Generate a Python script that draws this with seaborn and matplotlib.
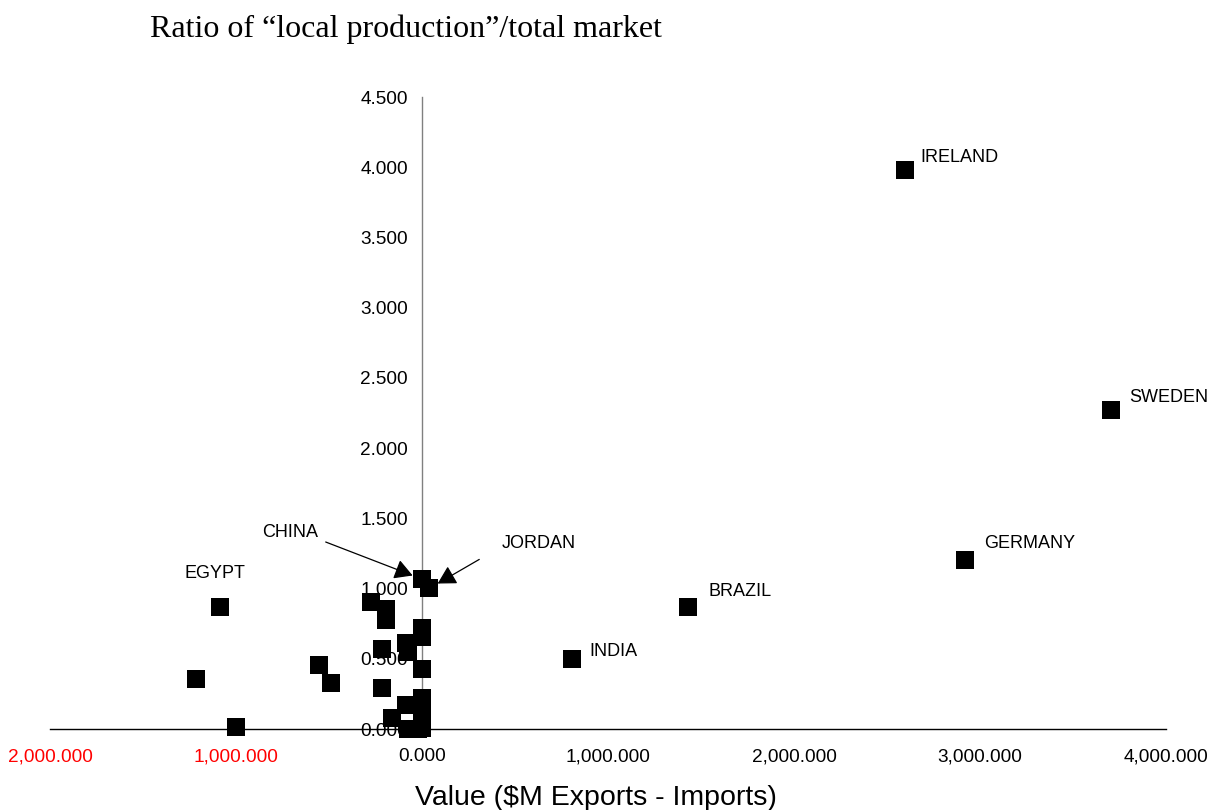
import matplotlib
matplotlib.use("Agg")
import matplotlib.pyplot as plt
import seaborn as sns
import pandas as pd

# ---------------- data ----------------
countries = ["IRELAND", "SWEDEN", "GERMANY", "BRAZIL", "INDIA", "EGYPT", "CHINA", "JORDAN",
             "", "", "", "", "", "", "", "", "", "", "", "", "", "", "", "", "", "", "", "", ""]
net_value = [2597.0, 3703.0, 2921.0, 1431.0, 808.0, -1086.0, -1.6, 39.0,
             -1217.0, -1002.0, -552.0, -489.0, -274.0, -193.0, -193.0, -213.0,
             -213.0, -86.0, -74.0, -1.6, -1.6, 1.6, 1.6, 1.6, 1.6,
             -86.0, -163.0, -74.0, -21.0]
local_ratio = [3.979, 2.270, 1.205, 0.870, 0.496, 0.868, 1.068, 1.001,
               0.354, 0.016, 0.456, 0.325, 0.902, 0.856, 0.778, 0.567,
               0.290, 0.612, 0.550, 0.719, 0.655, 0.425, 0.218, 0.112, 0.005,
               0.170, 0.076, 0.000, 0.000]

x_ticks = [-2000, -1000, 0, 1000, 2000, 3000, 4000]
y_ticks = [0.0, 0.5, 1.0, 1.5, 2.0, 2.5, 3.0, 3.5, 4.0, 4.5]

title = "Ratio of \u201clocal production\u201d/total market"
x_label = "Value ($M Exports - Imports)"

df = pd.DataFrame({"country": countries, "value": net_value, "ratio": local_ratio})

# ---------------- style ----------------
sns.set_style("white")
plt.rcParams["font.family"] = ["Liberation Sans", "DejaVu Sans"]

fig = plt.figure(figsize=(12.11, 8.10), dpi=100)
ax = fig.add_axes([50 / 1211, 81 / 810, 1116 / 1211, 632 / 810])

sns.scatterplot(data=df, x="value", y="ratio", ax=ax, marker="s", s=168,
                color="black", linewidth=0, zorder=3, clip_on=False, legend=False)

ax.set_xlim(x_ticks[0], x_ticks[-1])
ax.set_ylim(y_ticks[0], y_ticks[-1])

for side in ["top", "right"]:
    ax.spines[side].set_visible(False)
ax.spines["left"].set_position(("data", 0))
ax.spines["left"].set_color("#808080")
ax.spines["left"].set_linewidth(1.0)
ax.spines["bottom"].set_color("black")
ax.spines["bottom"].set_linewidth(1.0)

ax.set_xticks(x_ticks)
ax.set_xticklabels([f"{abs(v):,.3f}" for v in x_ticks])
for lab, v in zip(ax.get_xticklabels(), x_ticks):
    lab.set_color("#ff0000" if v < 0 else "black")
ax.set_yticks(y_ticks)
ax.set_yticklabels([f"{v:.3f}" for v in y_ticks])

ax.tick_params(axis="x", direction="out", length=5, width=1, color="black",
               labelsize=13.7, pad=9)
ax.tick_params(axis="y", direction="out", length=5, width=1, color="#606060",
               labelsize=13.7, pad=5, labelcolor="black")
ax.set_xlabel("")
ax.set_ylabel("")

# ---------------- labels ----------------
label_offsets = {
    "IRELAND": (15, 8),
    "SWEDEN": (18, 8),
    "GERMANY": (19, 12),
    "BRAZIL": (20, 11),
    "INDIA": (17, 3),
    "EGYPT": (-36, 29),
    "CHINA": (-160, 42),
    "JORDAN": (72, 40),
}
arrow_tails = {"CHINA": (-96, 37), "JORDAN": (50, 29)}

for _, row in df.iterrows():
    name = row["country"]
    if not name:
        continue
    dx, dy = label_offsets[name]
    ax.annotate(name, xy=(row["value"], row["ratio"]), xytext=(dx, dy),
                textcoords="offset pixels", ha="left", va="baseline",
                fontsize=13, color="black", zorder=4, annotation_clip=False)
    if name in arrow_tails:
        tx, ty = arrow_tails[name]
        ax.annotate("", xy=(row["value"], row["ratio"]), xytext=(tx, ty),
                    textcoords="offset pixels",
                    arrowprops=dict(arrowstyle="-|>,head_length=0.5,head_width=0.28",
                                    color="black", lw=0.9,
                                    mutation_scale=22, shrinkA=0, shrinkB=7),
                    zorder=4, annotation_clip=False)

fig.text(150 / 1211, 1 - 37 / 810, title, ha="left", va="baseline",
         fontsize=23, family=["Liberation Serif", "DejaVu Serif"], color="black")
fig.text(596 / 1211, 5 / 810, x_label, ha="center", va="baseline",
         fontsize=20.5, color="black")

fig.savefig("out.png", dpi=100)
